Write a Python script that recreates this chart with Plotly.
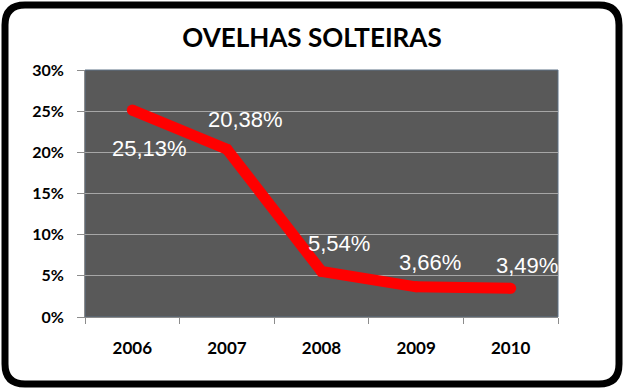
import plotly.graph_objects as go

# ---- data ----
years = ["2006", "2007", "2008", "2009", "2010"]
share = [0.2513, 0.2038, 0.0554, 0.0366, 0.0349]
title_text = "OVELHAS SOLTEIRAS"
y_ticks = [0, 0.05, 0.10, 0.15, 0.20, 0.25, 0.30]

# ---- layout constants (pixels) ----
W, H = 624, 389
L, R, T, B = 85, 66, 70, 72
PW, PH = W - L - R, H - T - B

# label offsets (style, not data)
label_dx = [17, 19, 17, 14, 16]
label_dy = [-38, 30, 28, 24, 23]


def px_x(px):
    return (px - L) / PW


def px_y(py):
    return (H - B - py) / PH


fig = go.Figure()
fig.add_trace(go.Scatter(
    x=years, y=share, mode="lines+markers",
    line=dict(color="#FF0000", width=11),
    marker=dict(color="#FF0000", size=11),
    hoverinfo="skip", showlegend=False,
))

for i, v in enumerate(share):
    fig.add_annotation(
        x=i, y=v, xref="x", yref="y",
        text=f"{v * 100:.2f}".replace(".", ",") + "%",
        showarrow=False, xshift=label_dx[i], yshift=label_dy[i],
        font=dict(family="Liberation Sans, Arial", size=22, color="#FFFFFF"),
    )

# rounded outer frame
x0, y0, x1, y1, r = 5, 5, 619, 384, 20
path = (
    f"M {px_x(x0 + r)},{px_y(y0)} L {px_x(x1 - r)},{px_y(y0)} "
    f"Q {px_x(x1)},{px_y(y0)} {px_x(x1)},{px_y(y0 + r)} "
    f"L {px_x(x1)},{px_y(y1 - r)} "
    f"Q {px_x(x1)},{px_y(y1)} {px_x(x1 - r)},{px_y(y1)} "
    f"L {px_x(x0 + r)},{px_y(y1)} "
    f"Q {px_x(x0)},{px_y(y1)} {px_x(x0)},{px_y(y1 - r)} "
    f"L {px_x(x0)},{px_y(y0 + r)} "
    f"Q {px_x(x0)},{px_y(y0)} {px_x(x0 + r)},{px_y(y0)} Z"
)
fig.add_shape(type="path", path=path, xref="paper", yref="paper",
              line=dict(color="#000000", width=7), layer="above")
# plot area border
fig.add_shape(type="rect", x0=0, x1=1, y0=0, y1=1, xref="paper", yref="paper",
              line=dict(color="#5F7287", width=1), layer="below")

fig.update_layout(
    width=W, height=H,
    margin=dict(l=L, r=R, t=T, b=B),
    paper_bgcolor="#FFFFFF",
    plot_bgcolor="#595959",
    title=dict(text=f"<b>{title_text}</b>", x=0.5, xref="container",
               y=1 - 38 / H, yref="container", xanchor="center", yanchor="middle",
               font=dict(family="Lato", size=26, color="#000000")),
    xaxis=dict(
        type="category", categoryorder="array", categoryarray=years,
        range=[-0.5, len(years) - 0.5], autorange=False,
        tickson="boundaries", ticks="outside", ticklen=6, tickangle=0,
        tickcolor="#8C8C8C", showgrid=False, showline=True, linecolor="#8C8C8C",
        tickfont=dict(family="Lato", size=17, color="#000000", weight="bold"),
        ticklabelstandoff=16, fixedrange=True,
    ),
    yaxis=dict(
        range=[0, 0.30], autorange=False, tickvals=y_ticks, tickformat=".0%",
        ticks="outside", ticklen=7, tickcolor="#8C8C8C", showgrid=True,
        gridcolor="#A6A6A6", gridwidth=1, zeroline=False, showline=True,
        linecolor="#8C8C8C",
        tickfont=dict(family="Lato", size=16, color="#000000", weight="bold"),
        ticklabelstandoff=10, fixedrange=True,
    ),
)

fig.write_html(
    "out.html",
    config={"displayModeBar": False},
    post_script="document.body.style.margin='0';document.body.style.overflow='hidden';",
)
